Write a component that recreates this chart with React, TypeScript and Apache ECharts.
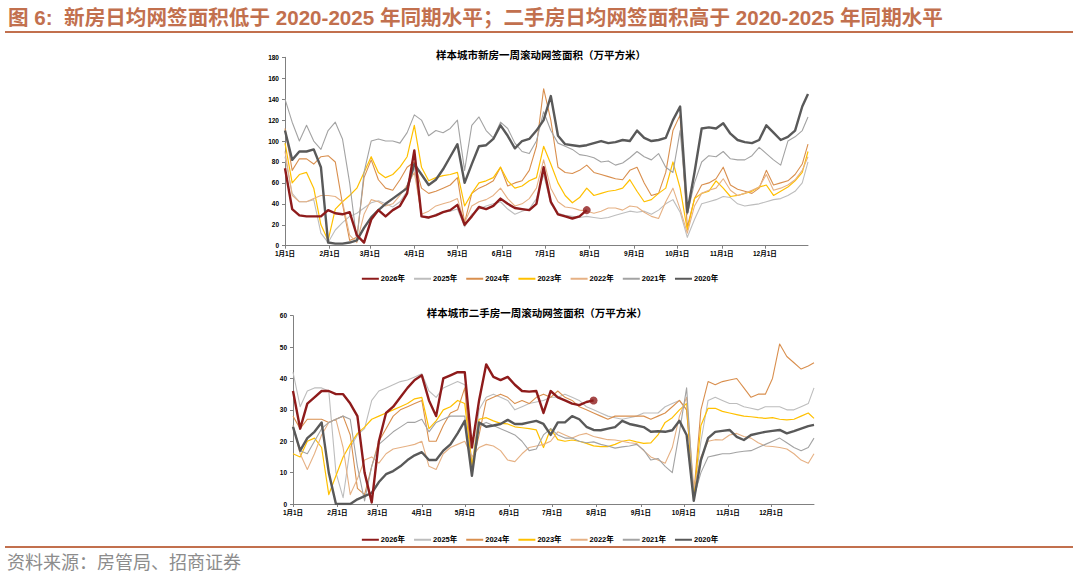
import React, { useEffect, useRef } from "react";
import * as echarts from "echarts";

// ---------- axis / tick data ----------
const MONTH_DAYS = [31, 28, 31, 30, 31, 30, 31, 31, 30, 31, 30, 31];
const MONTH_TICKS = ["1月1日", "2月1日", "3月1日", "4月1日", "5月1日", "6月1日", "7月1日", "8月1日", "9月1日", "10月1日", "11月1日", "12月1日"];
// day-of-year index (0 = 1月1日) of each sampled value
const SAMPLE_DAYS = [
  0, 5, 10, 15, 20, 25, 30, 35, 40, 45,
  50, 55, 60, 65, 70, 75, 80, 85, 90, 95,
  100, 105, 110, 115, 120, 125, 130, 135, 140, 145,
  150, 155, 160, 165, 170, 175, 180, 185, 190, 195,
  200, 205, 210, 215, 220, 225, 230, 235, 240, 245,
  250, 255, 260, 265, 270, 275, 280, 285, 290, 295,
  300, 305, 310, 315, 320, 325, 330, 335, 340, 345,
  350, 355, 360, 364,
];
const YEARS = ["2026年", "2025年", "2024年", "2023年", "2022年", "2021年", "2020年"];

// ---------- 新房 (万平方米) ----------
const NEW_2026 = [
  74, 35, 29, 28, 28, 28, 34, 31, 30, 32,
  10, 3, 25, 34, 28, 34, 38, 50, 91, 28,
  27, 29, 32, 34, 39, 20, 28, 37, 35, 38,
  45, 40, 36, 35, 34, 40, 75, 42, 30, 28,
  26, 28, 34,
];
const NEW_2025 = [
  85, 50, 42, 42, 44, 12, 3, 15, 22, 28,
  31, 36, 41, 43, 40, 37, 42, 52, 75, 28,
  26, 30, 32, 33, 35, 18, 30, 35, 38, 40,
  42, 35, 30, 33, 35, 45, 68, 40, 31, 29,
  28, 27, 28, 27, 26, 27, 29, 31, 33, 32,
  33, 30, 34, 40, 44, 32, 8, 25, 40, 42,
  44, 47, 46, 40, 38, 39, 40, 42, 44, 45,
  48, 52, 60, 80,
];
const NEW_2024 = [
  112, 72, 83, 83, 78, 85, 86, 80, 40, 5,
  8, 65, 82, 63, 55, 53, 63, 75, 80, 55,
  50, 52, 55, 58, 65, 22, 50, 55, 58, 62,
  75, 57, 60, 62, 72, 95, 150, 120, 75, 70,
  69, 72, 77, 70, 68, 66, 64, 63, 72, 75,
  60, 48, 50, 70, 110, 125, 18, 45, 58, 60,
  64, 75, 58, 54, 52, 50, 55, 72, 58, 60,
  62, 68, 78, 97,
];
const NEW_2023 = [
  98, 60, 68, 70, 55, 20, 5, 35, 42, 48,
  55, 70, 85, 70, 65, 68, 75, 85, 115, 75,
  62, 65, 67, 68, 70, 38, 50, 60, 62, 65,
  75, 62, 55, 57, 62, 65, 95, 78, 60, 48,
  41, 46, 55, 48, 50, 52, 53, 55, 63, 52,
  42, 44, 50, 55, 80, 55, 15, 45, 50, 52,
  62, 55, 47, 48, 50, 52, 56, 58, 48, 52,
  56, 62, 70, 90,
];
const NEW_2022 = [
  90, 48, 42, 42, 45, 48, 48, 47, 42, 10,
  3, 30, 44, 42, 38, 40, 48, 58, 70, 30,
  33, 38, 40, 42, 45, 22, 38, 42, 44, 48,
  55, 45, 38, 40, 45, 55, 82, 55, 42, 37,
  36, 34, 33, 31, 33, 36, 36, 34, 38, 37,
  32, 28, 26, 42, 55, 35, 12, 38, 50, 53,
  55, 64, 53, 48, 50, 53, 56, 68, 53, 55,
  58, 63, 72, 85,
];
const NEW_2021 = [
  140, 118, 100, 115, 100, 92, 110, 118, 102, 60,
  5, 70, 100, 102, 100, 100, 98, 108, 125, 120,
  105, 110, 108, 112, 120, 72, 115, 123, 110, 103,
  118, 112, 98, 90, 88, 100, 128, 110, 98, 95,
  92, 87, 86, 84, 80, 81, 77, 79, 84, 90,
  85, 82, 88, 75, 70, 110, 30, 60, 80, 86,
  85, 90, 83, 82, 82, 86, 94, 88, 82, 77,
  100, 104, 110, 123,
];
const NEW_2020 = [
  110, 82, 90, 90, 92, 75, 3, 2, 2, 3,
  5, 17, 27, 34, 40, 45, 50, 55, 78, 68,
  58, 63, 73, 85, 97, 60, 78, 95, 96, 102,
  115, 105, 93, 100, 102, 110, 120, 143, 105, 97,
  96, 95, 96, 98, 100, 98, 99, 101, 100, 110,
  103, 100, 101, 103, 120, 133, 32, 70, 112, 113,
  112, 117, 107, 101, 99, 98, 101, 115, 108, 101,
  104, 110, 133, 145,
];

// ---------- 二手房 (万平方米) ----------
const SH_2026 = [
  36, 24, 32, 34, 36, 36, 35, 35, 32, 28,
  10, 0.5, 20, 29, 31, 34, 37, 39.5, 41, 33,
  28, 40, 41, 42, 42, 18, 33, 44.5, 40.5, 39.5,
  40.5, 38, 36, 35.8, 36, 29, 36, 34, 33, 32,
  31.5, 32.5, 33,
];
const SH_2025 = [
  42, 31, 36, 37, 37, 36, 10, 2, 18, 22,
  24, 33, 36, 37, 38, 39, 39.5, 40.5, 41.5, 36,
  34, 37, 38, 39, 38, 12, 30, 34, 35, 34,
  33, 30, 31, 32, 32.5, 33, 34, 34, 35, 34,
  33, 31, 30, 29, 28, 27.5, 27, 27.5, 28, 29,
  29, 29, 31, 32, 33, 30, 3, 20, 33, 34,
  33, 32, 32, 31, 30.5, 30, 31, 31, 31, 30,
  30, 31, 32, 37,
];
const SH_2024 = [
  28, 24, 27, 27, 27, 26, 27, 28, 22, 5,
  3, 12, 20, 24, 28, 30, 31, 32, 33, 20,
  20, 25, 29, 30, 37, 12, 22, 33, 34, 35,
  34, 32, 33, 32, 34, 35, 34, 36, 34, 33,
  31, 30, 29, 28, 27, 28, 28, 28, 28, 28,
  27, 28, 29, 31, 33, 30, 3, 30, 39, 38,
  39, 39.5, 40, 37, 34, 35, 35, 40, 51, 47,
  45, 43, 44, 45,
];
const SH_2023 = [
  16, 15, 20, 21, 18, 3, 9, 15, 19, 22.5,
  24.5, 27, 28, 29, 30, 31, 32, 33.5, 34, 24,
  26.5, 30, 31, 33, 32, 12, 27, 27.5, 26.5, 25.7,
  25.5, 24.6, 24.3, 24, 23.6, 18, 24, 20.5, 20, 20.4,
  20, 19.3, 18.5, 18.3, 18.3, 19, 20, 20.4, 19.8, 19.3,
  19.5, 22, 26, 27.5, 30, 32, 2, 25, 30.5, 30.5,
  29.5, 29, 28.5, 28, 27.8, 27.5, 27.3, 27.5, 27, 26.8,
  27, 28, 29, 27.3,
];
const SH_2022 = [
  25, 16, 11, 16, 22, 26, 27, 18, 3, 8,
  14, 15, 13, 16, 17.5, 18, 18.5, 19, 20, 12,
  11, 16, 18, 19, 20, 15, 18, 19, 18.5, 17,
  14, 13.5, 16, 18, 18.5, 19, 20, 23, 22, 21,
  22, 22.5, 21.5, 21, 20.5, 20.4, 20, 19.5, 19.3, 17,
  15, 14, 13, 18, 28, 34, 5, 15, 20, 20.5,
  20.4, 22, 22.5, 21.5, 21, 19.5, 18.5, 18.3, 18, 17.5,
  16, 14, 13, 16,
];
const SH_2021 = [
  25, 17, 16, 20, 24, 26, 27, 28, 27, 12,
  1, 12, 19, 21, 23, 24.5, 26, 26, 27, 23,
  26, 27, 28, 28, 28, 10, 25, 26, 25, 24,
  23, 22, 20, 17, 17.5, 22, 24, 22, 21, 21,
  20, 19.5, 19.8, 19, 18.5, 17.8, 18.2, 18.5, 19, 17.2,
  14, 14.5, 12, 10, 23, 37, 2, 10, 15, 15.5,
  16, 16, 16.5, 16.8, 17, 18, 19, 20, 21, 19.5,
  18, 17, 18, 21,
];
const SH_2020 = [
  24.6, 17, 21, 23, 26, 10, 0, 0, 0, 1.5,
  2.5, 3.5, 7, 9.5, 10.5, 12, 14, 15.5, 16.5, 14,
  14, 17, 19, 22.5, 26.5, 9, 26, 24.6, 25, 25.5,
  26.8, 25.5, 25.5, 26, 26.5, 25.5, 22, 26, 26, 28,
  27, 24.6, 23.6, 23.5, 24, 24.5, 26.5, 25.5, 25, 24.5,
  23, 23.2, 23, 23.5, 26.5, 22, 1, 14, 21, 23,
  23.3, 23.6, 21.4, 20.4, 22, 22.5, 23, 23.3, 23.6, 22.5,
  23.2, 24, 24.8, 25.2,
];

const NEW_SERIES = [NEW_2026, NEW_2025, NEW_2024, NEW_2023, NEW_2022, NEW_2021, NEW_2020];
const SH_SERIES = [SH_2026, SH_2025, SH_2024, SH_2023, SH_2022, SH_2021, SH_2020];

const COLORS = ["#8E1B1B", "#BDBDBD", "#D98F4E", "#FFC000", "#E6B184", "#A3A3A3", "#595959"];
const WIDTHS = [2.4, 1.1, 1.1, 1.2, 1.1, 1.1, 2.4];

const FONT = 'Arial, "Liberation Sans", "Noto Sans CJK SC", sans-serif';
const ACCENT = "#C2704E";

function buildCategories(): string[] {
  const cats: string[] = [];
  MONTH_DAYS.forEach((n, m) => {
    for (let d = 1; d <= n; d++) cats.push(`${m + 1}月${d}日`);
  });
  return cats;
}

function pairs(values: number[]) {
  return values.map((v, i) => [SAMPLE_DAYS[i], v]);
}

export default function App() {
  const ref = useRef<HTMLDivElement>(null);

  useEffect(() => {
    if (!ref.current) return;
    const chart = echarts.init(ref.current, undefined, { renderer: "svg" });
    const cats = buildCategories();
    const isTick = (_i: number, v: string) => MONTH_TICKS.includes(v);

    const grids = [
      { left: 285, top: 57.3, width: 523, height: 188.4 },
      { left: 293, top: 315.7, width: 521, height: 188.3 },
    ];

    const xAxes = [0, 1].map((g) => ({
      type: "category",
      gridIndex: g,
      data: cats,
      boundaryGap: false,
      axisLine: { show: true, lineStyle: { color: "#808080", width: 1 } },
      axisTick: { show: true, interval: isTick, length: 3, lineStyle: { color: "#808080" } },
      axisLabel: { interval: isTick, fontSize: 6.5, fontWeight: "bold", color: "#000", margin: 5, fontFamily: FONT },
      splitLine: { show: false },
    }));

    const yAxes = [
      { max: 180, interval: 20 },
      { max: 60, interval: 10 },
    ].map((c, g) => ({
      type: "value",
      gridIndex: g,
      min: 0,
      max: c.max,
      interval: c.interval,
      axisLine: { show: true, lineStyle: { color: "#808080", width: 1 } },
      axisTick: { show: true, length: 3, lineStyle: { color: "#808080" } },
      axisLabel: { fontSize: 6.5, fontWeight: "bold", color: "#000", margin: 6, fontFamily: FONT },
      splitLine: { show: false },
    }));

    const order = [1, 2, 3, 4, 5, 6, 0]; // draw 2026 last (on top)
    const series: any[] = [];
    [NEW_SERIES, SH_SERIES].forEach((set, g) => {
      order.forEach((k) => {
        series.push({
          type: "line",
          name: YEARS[k],
          xAxisIndex: g,
          yAxisIndex: g,
          data: pairs(set[k]),
          symbol: "none",
          smooth: false,
          lineStyle: { color: COLORS[k], width: WIDTHS[k], join: "round" },
          itemStyle: { color: COLORS[k] },
          z: k === 0 ? 5 : k === 6 ? 4 : 3,
        });
      });
      const last = set[0].length - 1;
      series.push({
        type: "scatter",
        name: "2026end",
        xAxisIndex: g,
        yAxisIndex: g,
        data: [[SAMPLE_DAYS[last], set[0][last]]],
        symbol: "circle",
        symbolSize: 8,
        itemStyle: { color: COLORS[0] },
        z: 6,
      });
    });

    const legendData = YEARS.map((name, k) => ({
      name,
      icon: "rect",
      itemStyle: { color: COLORS[k] },
    }));

    const legendBase = {
      data: legendData,
      left: "center",
      itemWidth: 17,
      itemHeight: 2,
      itemGap: 9,
      textStyle: { fontSize: 7.5, fontWeight: "bold", color: "#000", fontFamily: FONT, padding: [0, 0, 0, -3] },
      selectedMode: false,
    };

    const text = (t: string, x: number, y: number, font: string, fill: string, align = "left") => ({
      type: "text",
      x,
      y,
      style: { text: t, font, fill, textAlign: align, align, textVerticalAlign: "middle", verticalAlign: "middle" },
    });
    const hline = (y: number) => ({
      type: "line",
      shape: { x1: 5, y1: y, x2: 1073, y2: y },
      style: { stroke: ACCENT, lineWidth: 2 },
    });

    chart.setOption({
      animation: false,
      backgroundColor: "#fff",
      grid: grids,
      xAxis: xAxes,
      yAxis: yAxes,
      legend: [
        { ...legendBase, top: 270 },
        { ...legendBase, top: 531 },
      ],
      series,
      graphic: [
        text(
          "图 6:  新房日均网签面积低于 2020-2025 年同期水平；二手房日均网签面积高于 2020-2025 年同期水平",
          8, 17, `bold 20.6px ${FONT}`, ACCENT
        ),
        hline(32),
        text("样本城市新房一周滚动网签面积（万平方米）", 541, 55, `bold 10.5px ${FONT}`, "#000", "center"),
        text("样本城市二手房一周滚动网签面积（万平方米）", 537, 312.5, `bold 10.5px ${FONT}`, "#000", "center"),
        hline(547),
        text("资料来源：房管局、招商证券", 7, 561, `18px "Noto Sans CJK SC", sans-serif`, "#8C8C8C"),
      ],
    });

    return () => chart.dispose();
  }, []);

  return (
    <div
      ref={ref}
      style={{ position: "fixed", left: 0, top: 0, width: 1080, height: 573, background: "#fff" }}
    />
  );
}
